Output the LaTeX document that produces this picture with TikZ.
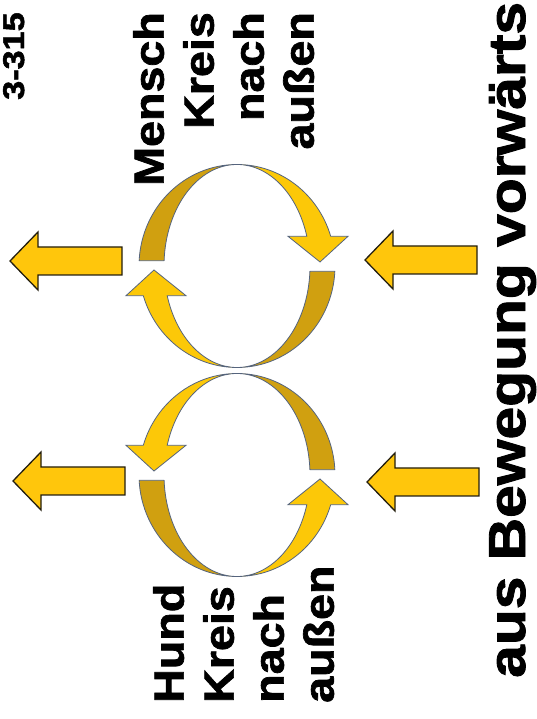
\documentclass[tikz,border=0pt]{standalone}
\usepackage{fontspec}
\usepackage{graphicx}
\setmainfont{Liberation Sans}[BoldFeatures={FakeBold=1.6}]
\definecolor{arrowyellow}{RGB}{255,198,12}
\definecolor{lightgold}{RGB}{252,200,8}
\definecolor{darkgold}{RGB}{208,160,16}
\definecolor{ringline}{RGB}{85,100,125}
\definecolor{arrowline}{RGB}{35,30,15}
\newcommand{\sx}[2][1.11]{\scalebox{#1}[1]{#2}}
\newcommand{\ringhalfpaths}{%
  \draw[backband] (177:98pt and 101.5pt)
    arc[start angle=177, end angle=90, x radius=98pt, y radius=101.5pt]
    arc[start angle=90, end angle=177, x radius=73pt, y radius=101.5pt] -- cycle;
  \draw[frontband] (0,101.5)
    arc[start angle=90, end angle=17, x radius=98pt, y radius=101.5pt]
    -- (111,29.68) -- (83,4) -- (51,29.68) -- (69.81,29.68)
    arc[start angle=17, end angle=90, x radius=73pt, y radius=101.5pt] -- cycle;
}
\tikzset{
  straightarrow/.style={fill=arrowyellow, draw=arrowline, line width=1.3pt, line join=miter},
  backband/.style={fill=darkgold, draw=ringline, line width=0.8pt, line join=round},
  frontband/.style={fill=lightgold, draw=ringline, line width=0.8pt, line join=miter},
  lbl/.style={inner sep=0pt, text=black, font={\bfseries\fontsize{42}{50}\selectfont}},
  pics/leftarrow/.style={code={
    \draw[straightarrow] (0,0) -- (28,29) -- (28,14) -- (112,14) -- (112,-14) -- (28,-14) -- (28,-29) -- cycle;
  }},
  pics/ring/.style={code={
    \ringhalfpaths
    \begin{scope}[rotate=180]\ringhalfpaths\end{scope}
  }},
}
\begin{document}
\begin{tikzpicture}[x=1pt, y=1pt]
\useasboundingbox (0,0) rectangle (537,719);
% circular arrows
\pic (mring) at (237,453) {ring};
\pic[yscale=-1] (hring) at (237,244) {ring};
% straight arrows
\pic (la1) at (10,458) {leftarrow};
\pic (la2) at (13,238) {leftarrow};
\pic (ra1) at (365,459) {leftarrow};
\pic (ra2) at (367,237) {leftarrow};
% texts
\node[anchor=base west, rotate=90, inner sep=0pt, font={\bfseries\fontsize{30}{36}\selectfont}] (code) at (24,619) {\sx[1.14]{3-315}};
\node[lbl, align=right, anchor=north east, rotate=90] (mensch) at (133,707)
  {\sx{Mensch}\\\sx{Kreis}\\\sx{nach}\\\sx{außen}};
\node[lbl, align=left, anchor=north west, rotate=90] (hund) at (153,16)
  {\sx{Hund}\\\sx{Kreis}\\\sx{nach}\\\sx{außen}};
\node[lbl, font={\bfseries\fontsize{52}{60}\selectfont}, anchor=base west, rotate=90] (motion) at (525,41)
  {\sx[1.13]{aus Bewegung vorwärts}};
\end{tikzpicture}
\end{document}
